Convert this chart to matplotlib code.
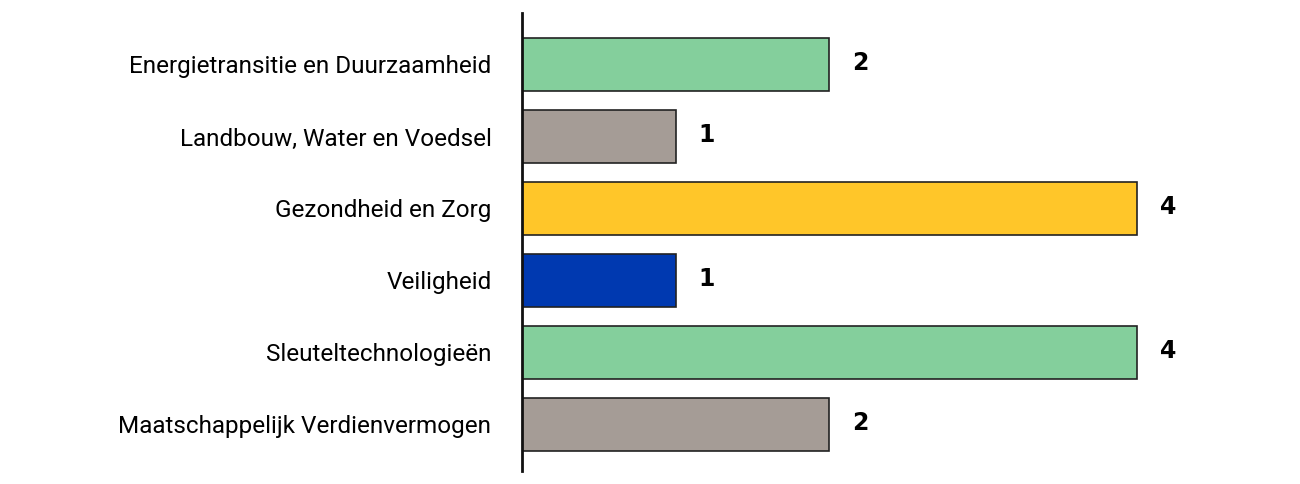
import matplotlib
matplotlib.use("Agg")
import matplotlib.pyplot as plt

categories = ["Energietransitie en Duurzaamheid", "Landbouw, Water en Voedsel",
              "Gezondheid en Zorg", "Veiligheid", "Sleuteltechnologieën",
              "Maatschappelijk Verdienvermogen"]
values = [2, 1, 4, 1, 4, 2]
colors = ["#84CF9C", "#A59C96", "#FFC629", "#0039B0", "#84CF9C", "#A59C96"]

fig = plt.figure(figsize=(13, 4.84), dpi=100)
left = 522 / 1300
ax = fig.add_axes([left, (484 - 471) / 484, (522 + 4.5 * 153.7) / 1300 - left, (471 - 13) / 484])

y = list(range(len(categories)))
ax.barh(y, values, height=0.74, color=colors, edgecolor="#222222", linewidth=1.2)
ax.set_ylim(5.646, -0.715)
ax.set_xlim(0, 4.5)
ax.set_yticks(y)
ax.set_yticklabels(categories, fontsize=17.5, family=["Roboto", "DejaVu Sans"])
ax.tick_params(axis="y", length=0, pad=22)
ax.set_xticks([])
for s in ["top", "right", "bottom"]:
    ax.spines[s].set_visible(False)
ax.spines["left"].set_linewidth(2)
ax.spines["left"].set_color("#111111")

for yi, v in zip(y, values):
    ax.text(v + 0.15, yi - 0.02, str(v), va="center", ha="left", fontsize=17,
            fontweight="bold", family=["DejaVu Sans"])

fig.savefig("out.png", dpi=100)
